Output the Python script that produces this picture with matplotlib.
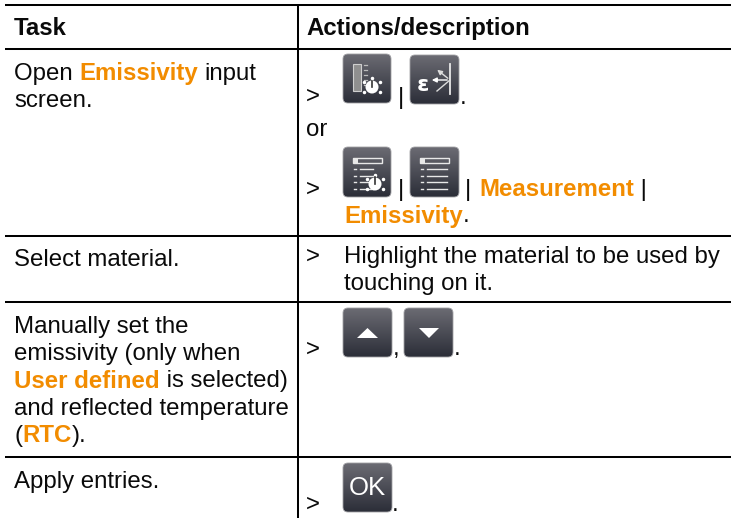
import numpy as np
import matplotlib
matplotlib.use("Agg")
import matplotlib.pyplot as plt
from matplotlib.patches import FancyBboxPatch, Polygon, Circle, Rectangle

W, H = 731, 518
ORANGE = "#f28c00"
INK = "#0a0a0a"
FS = 17.25
FONT = "Liberation Sans"

headers = ["Task", "Actions/description"]
left_lines = [
    (80, [("Open ", 0), ("Emissivity", 1)]),
    (107, [("screen.", 0)]),
    (266, [("Select material.", 0)]),
    (332.5, [("Manually set the", 0)]),
    (360, [("emissivity (only when", 0)]),
    (387.5, [("User defined", 1), (" is selected)", 0)]),
    (415, [("and reflected temperature", 0)]),
    (442, [("(", 0), ("RTC", 1), (").", 0)]),
    (488, [("Apply entries.", 0)]),
]
right_lines = [
    (204, 80, [("input", 0)]),
    (306, 136, [("or", 0)]),
    (479, 196, [("Measurement", 1), (" |", 0)]),
    (344, 222.5, [("Emissivity", 1)]),
    (344, 262.5, [("Highlight the material to be used by", 0)]),
    (344, 290, [("touching on it.", 0)]),
]
arrows_y = [103, 195.5, 263, 355.5, 511]
rows_y = [4.5, 48.5, 235.5, 301.5, 456.5]
marks = [(401, 104, "|"), (401, 196, "|"), (468, 196, "|")]
puncts = [(460, 104, "."), (393, 355, ","), (454, 355, "."), (392, 511, "."), (462.5, 222.5, ".")]

fig = plt.figure(figsize=(W / 100, H / 100), dpi=100)
ax = fig.add_axes([0, 0, 1, 1])
ax.set_xlim(0, W)
ax.set_ylim(H, 0)
ax.axis("off")
r = fig.canvas.get_renderer()


def rich(x, y, segs):
    for s, bold in segs:
        w = "bold" if bold else "normal"
        ax.text(x, y, s, family=FONT, fontsize=FS, color=ORANGE if bold else INK,
                fontweight=w, va="baseline", ha="left")
        m = ax.text(0, 0, s + ".", family=FONT, fontsize=FS, fontweight=w)
        d = ax.text(0, 0, ".", family=FONT, fontsize=FS, fontweight=w)
        x += m.get_window_extent(r).width - d.get_window_extent(r).width
        m.remove()
        d.remove()
    return x


def button(x0, y0, w, h):
    grad = np.linspace(0, 1, 64)[:, None]
    top = np.array([0.42, 0.42, 0.45])
    bot = np.array([0.17, 0.18, 0.22])
    img = (top + (bot - top) * grad[..., None])
    im = ax.imshow(img, extent=(x0, x0 + w, y0 + h, y0), aspect="auto", zorder=2)
    p = FancyBboxPatch((x0 + 3, y0 + 3), w - 6, h - 6, boxstyle="round,pad=3,rounding_size=5",
                       fc="none", ec="#a0a0a4", lw=0.6, zorder=3)
    ax.add_patch(p)
    im.set_clip_path(p)


def ic_scale(x, y):
    ax.add_patch(Rectangle((x + 10, y + 10), 8, 27, fc="#8f8f8f", ec="#cfcfcf", lw=0.8, zorder=4))
    for i in range(5):
        ax.plot([x + 21, x + 24], [y + 11 + i * 5] * 2, color="#bbbbbb", lw=0.9, zorder=4)
    ax.add_patch(Circle((x + 29, y + 33), 6.5, fc="white", ec="none", zorder=4))
    ax.plot([x + 29, x + 29], [y + 27, y + 33], color="#333333", lw=1.2, zorder=5)
    for a in np.deg2rad([-30, 30, 150, 210, 90 + 180]):
        ax.plot(x + 29 + 9.5 * np.cos(a), y + 33 + 9.5 * np.sin(a), "o", ms=1.5, color="white", zorder=5)


def ic_eps(x, y):
    ax.text(x + 13, y + 30, "ε", family="DejaVu Sans", fontweight="bold", fontsize=16, color="white",
            ha="center", va="center", zorder=4)
    ax.plot([x + 40, x + 40], [y + 9, y + 39], color="#e8e8e8", lw=1.3, zorder=4)
    ax.annotate("", xy=(x + 25, y + 13), xytext=(x + 40, y + 25),
                arrowprops=dict(arrowstyle="-|>", color="#dddddd", lw=1, mutation_scale=7), zorder=4)
    ax.annotate("", xy=(x + 19, y + 25), xytext=(x + 40, y + 25),
                arrowprops=dict(arrowstyle="-|>", color="#ffffff", lw=1, mutation_scale=7), zorder=4)
    ax.plot([x + 40, x + 27], [y + 25, y + 36], color="#dddddd", lw=1, zorder=4)


def ic_list(x, y, knob=False):
    ax.add_patch(Rectangle((x + 10, y + 11), 29, 5, fc="none", ec="#e8e8e8", lw=1, zorder=4))
    ax.add_patch(Rectangle((x + 10, y + 11), 5, 5, fc="#e8e8e8", ec="none", zorder=4))
    n = 4
    for i in range(n):
        yy = y + 22 + i * 6.5
        xr = x + 30 if knob else x + 37
        ax.plot([x + 11, x + 13], [yy, yy], color="#e8e8e8", lw=1, zorder=4)
        ax.plot([x + 17, xr], [yy, yy], color="#e8e8e8", lw=1, zorder=4)
    if knob:
        ax.add_patch(Circle((x + 32, y + 37), 6.5, fc="white", ec="none", zorder=5))
        ax.plot([x + 32, x + 32], [y + 30, y + 37], color="#333333", lw=1.2, zorder=6)
        for a in np.deg2rad([-30, 30, 150, 210, 270]):
            ax.plot(x + 32 + 9.5 * np.cos(a), y + 37 + 9.5 * np.sin(a), "o", ms=1.5, color="white", zorder=5)


def ic_arrow(x, y, up):
    if up:
        pts = [(x + 14, y + 30), (x + 35, y + 30), (x + 24.5, y + 20)]
    else:
        pts = [(x + 15, y + 20), (x + 35, y + 20), (x + 25, y + 30)]
    ax.add_patch(Polygon(pts, fc="white", ec="none", zorder=4))


for y in rows_y:
    ax.plot([5, W], [y, y], color="black", lw=1.45, solid_capstyle="butt")
ax.plot([298, 298], [4, H], color="black", lw=1.45, solid_capstyle="butt")

ax.text(14, 35, headers[0], family=FONT, fontsize=FS, fontweight="bold", color=INK)
ax.text(306, 35, headers[1], family=FONT, fontsize=FS, fontweight="bold", color=INK)

for y, segs in left_lines:
    rich(14, y, segs)
for x, y, segs in right_lines:
    rich(x, y, segs)

for y in arrows_y:
    ax.text(306, y, ">", family=FONT, fontsize=FS, color=INK)
for x, y, s in marks:
    ax.text(x, y, s, family=FONT, fontsize=FS, color=INK, ha="center")
for x, y, s in puncts:
    ax.text(x, y, s, family=FONT, fontsize=FS, color=INK)

button(343, 54, 48, 49); ic_scale(343, 54)
button(410, 55, 49, 49); ic_eps(410, 55)
button(343, 147, 48, 50); ic_list(343, 147, True)
button(410, 147, 49, 50); ic_list(410, 147)
button(343, 308, 49, 49); ic_arrow(343, 308, True)
button(404, 308, 49, 49); ic_arrow(404, 308, False)
button(343, 463, 49, 49)
ax.text(367.5, 488, "OK", family=FONT, fontsize=18.5, color="white", ha="center", va="center", zorder=4)

ax.set_xlim(0, W)
ax.set_ylim(H, 0)
fig.savefig("out.png", dpi=100)
